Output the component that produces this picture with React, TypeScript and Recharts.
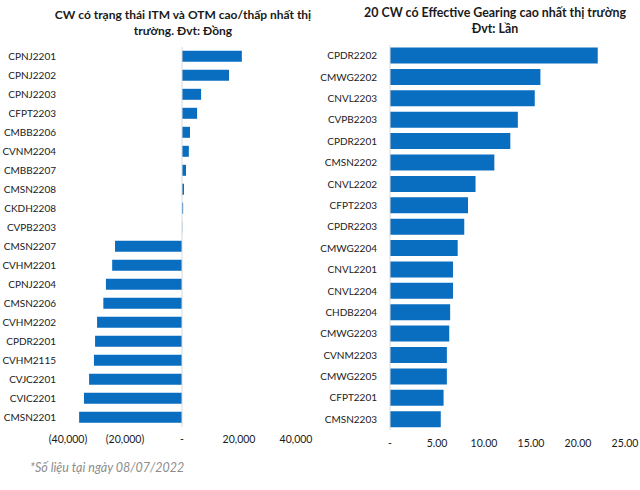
import React from 'react';
import { BarChart, Bar, XAxis, YAxis, ReferenceLine } from 'recharts';

// ITM / OTM chart (Đồng)
const itmCodes = [
  'CPNJ2201', 'CPNJ2202', 'CPNJ2203', 'CFPT2203', 'CMBB2206', 'CVNM2204', 'CMBB2207',
  'CMSN2208', 'CKDH2208', 'CVPB2203', 'CMSN2207', 'CVHM2201', 'CPNJ2204', 'CMSN2206',
  'CVHM2202', 'CPDR2201', 'CVHM2115', 'CVJC2201', 'CVIC2201', 'CMSN2201',
];
const itmValues = [
  21000, 16500, 6700, 5300, 2800, 2400, 1400, 700, 400, 100, -23500, -24500, -26700,
  -27600, -29800, -30500, -30900, -32600, -34400, -36100,
];
const itmTicks = [-40000, -20000, 0, 20000, 40000];

// Effective gearing chart (Lần)
const gearCodes = [
  'CPDR2202', 'CMWG2202', 'CNVL2203', 'CVPB2203', 'CPDR2201', 'CMSN2202', 'CNVL2202',
  'CFPT2203', 'CPDR2203', 'CMWG2204', 'CNVL2201', 'CNVL2204', 'CHDB2204', 'CMWG2203',
  'CVNM2203', 'CMWG2205', 'CFPT2201', 'CMSN2203',
];
const gearValues = [
  22.1, 16.0, 15.4, 13.6, 12.8, 11.1, 9.1, 8.3, 7.9, 7.2, 6.7, 6.7, 6.4, 6.3, 6.05, 6.05, 5.7, 5.4,
];
const gearTicks = [0, 5, 10, 15, 20, 25];

const blue = '#0A6EC0';
const font = 'Lato, Calibri, sans-serif';

const itmData = itmCodes.map((code, i) => ({ code, value: itmValues[i] }));
const gearData = gearCodes.map((code, i) => ({ code, value: gearValues[i] }));

const fmtDong = (v: number) => {
  if (v === 0) return '-';
  const s = Math.abs(v).toLocaleString('en-US');
  return v < 0 ? `(${s})` : s;
};
const fmtGear = (v: number) => (v === 0 ? '-' : v.toFixed(2));

const tickStyle = { fontSize: 10.5, fill: '#1a1a1a', fontFamily: font };
const catStyle = { fontSize: 10, fill: '#1a1a1a', fontFamily: font };

const titleStyle: React.CSSProperties = {
  position: 'absolute',
  fontFamily: font,
  fontWeight: 700,
  fontSize: 12,
  lineHeight: '16px',
  textAlign: 'center',
  color: '#1a1a1a',
};

export default function App() {
  return (
    <div style={{ position: 'absolute', left: 0, top: 0, width: 640, height: 490, background: '#fff', overflow: 'hidden' }}>
      <div style={{ ...titleStyle, left: 40, top: 7, width: 286 }}>
        CW có trạng thái ITM và OTM cao/thấp nhất thị<br />trường. Đvt: Đồng
      </div>
      <div style={{ ...titleStyle, left: 335, top: 5, width: 320, fontSize: 12.4 }}>
        20 CW có Effective Gearing cao nhất thị trường<br />Đvt: Lần
      </div>

      <div style={{ position: 'absolute', left: 0, top: 0 }}>
        <BarChart
          width={320}
          height={490}
          layout="vertical"
          data={itmData}
          margin={{ top: 47, right: 24, bottom: 33, left: 0 }}
          barCategoryGap="20%"
        >
          <XAxis
            type="number"
            domain={[-40000, 40000]}
            ticks={itmTicks}
            tickFormatter={fmtDong}
            axisLine={false}
            tickLine={false}
            tickSize={0}
            tickMargin={9}
            height={30}
            tick={tickStyle}
          />
          <YAxis
            type="category"
            dataKey="code"
            width={68}
            axisLine={false}
            tickLine={false}
            tickSize={0}
            tickMargin={12}
            interval={0}
            tick={catStyle}
          />
          <ReferenceLine x={0} stroke="#d9d9d9" strokeWidth={1} />
          <Bar dataKey="value" fill={blue} isAnimationActive={false} />
        </BarChart>
      </div>

      <div style={{ position: 'absolute', left: 320, top: 0 }}>
        <BarChart
          width={320}
          height={490}
          layout="vertical"
          data={gearData}
          margin={{ top: 45, right: 15, bottom: 30, left: 0 }}
          barCategoryGap="12%"
        >
          <XAxis
            type="number"
            domain={[0, 25]}
            ticks={gearTicks}
            tickFormatter={fmtGear}
            axisLine={false}
            tickLine={false}
            tickSize={0}
            tickMargin={10}
            height={30}
            tick={tickStyle}
          />
          <YAxis
            type="category"
            dataKey="code"
            width={70}
            axisLine={{ stroke: '#d9d9d9' }}
            tickLine={false}
            tickSize={0}
            tickMargin={13}
            interval={0}
            tick={catStyle}
          />
          <Bar dataKey="value" fill={blue} isAnimationActive={false} />
        </BarChart>
      </div>

      <div
        style={{
          position: 'absolute',
          left: 30,
          top: 460,
          fontFamily: font,
          fontStyle: 'italic',
          fontSize: 12.5,
          color: '#8c8c8c',
        }}
      >
        *Số liệu tại ngày 08/07/2022
      </div>
    </div>
  );
}
